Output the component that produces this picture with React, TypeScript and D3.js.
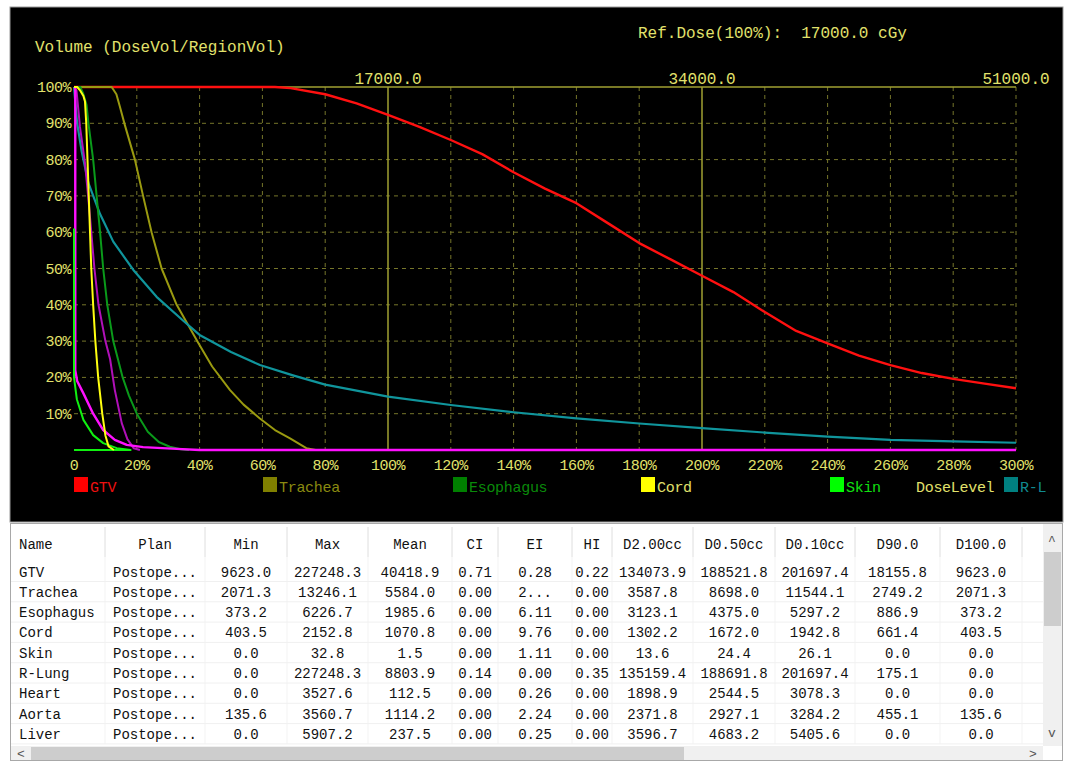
import React from 'react'
import * as d3 from 'd3'

// DVH curves, [dose % of ref dose, volume %]
const gtvDvh: [number, number][] = [[0, 100], [57, 100], [64, 100], [69, 99.7], [80, 98], [90, 95.5], [100, 92.3], [110, 89], [120, 85.4], [130, 81.5], [140, 76.5], [150, 72], [160, 68], [170, 62.5], [180, 57], [190, 52.5], [200, 48], [210, 43.5], [220, 38], [230, 32.8], [240, 29.4], [250, 26], [260, 23.4], [270, 21.2], [280, 19.6], [290, 18.3], [300, 17]]
const tracheaDvh: [number, number][] = [[0, 100], [12, 100], [13.5, 98], [14.6, 94.6], [16.2, 89.5], [19.4, 80], [22, 70], [24.7, 60], [27.9, 50], [32.7, 40], [39.6, 29.5], [44, 23], [49.7, 16.5], [54, 12.5], [59.2, 8.7], [64, 5.5], [68.8, 3.2], [74, 0.5], [77, 0]]
const esophagusDvh: [number, number][] = [[0, 100], [2, 100], [3, 98], [4, 95], [4.6, 90], [6.1, 80], [7.2, 70], [8.3, 60], [9.3, 50], [10.6, 40], [12.5, 30], [15.5, 20], [17.5, 15], [20, 10], [23.5, 5], [27, 2.2], [30.5, 0.9], [34, 0.2], [36.6, 0]]
const cordDvh: [number, number][] = [[0, 100], [1, 100], [2, 99], [3, 97.5], [3.5, 96], [3.9, 90], [4.3, 80], [4.7, 70], [5.1, 60], [5.5, 50], [6.1, 40], [6.8, 30], [7.7, 20], [9, 10], [10, 4], [11, 1], [12.7, 0]]
const skinDvh: [number, number][] = [[0, 61], [0, 20], [0.9, 14], [3, 8.3], [6.1, 4.1], [9.3, 1.9], [13.6, 0.5], [18, 0], [0, 0]]
const rLungDvh: [number, number][] = [[0, 100], [0.5, 95], [1, 90], [2.5, 82], [4.6, 73.5], [8.3, 65], [12.5, 57.4], [18.9, 49.6], [26.3, 42.2], [34.8, 35.6], [40, 31.7], [50, 27], [59.2, 23.4], [70, 20.5], [80, 18], [100, 14.7], [120, 12.4], [140, 10.4], [160, 8.7], [180, 7.3], [200, 6], [220, 4.8], [240, 3.7], [260, 2.8], [280, 2.4], [300, 2]]
const heartDvh: [number, number][] = [[0.4, 100], [0.4, 22], [1, 19], [3, 15.6], [6.1, 10], [9.3, 5.5], [13, 2.8], [16.8, 1.4], [22, 0.8], [32.7, 0.3], [40, 0], [300, 0]]
const aortaDvh: [number, number][] = [[0, 100], [0.8, 99], [1.9, 89], [3.5, 79], [4.5, 70], [5.5, 60], [6.5, 50], [7.8, 40], [10, 30], [11.5, 25], [13, 16.5], [15.2, 7.4], [17, 3], [19, 0.5], [21, 0]]

const doseTicks = [0, 20, 40, 60, 80, 100, 120, 140, 160, 180, 200, 220, 240, 260, 280, 300]
const volTicks = [10, 20, 30, 40, 50, 60, 70, 80, 90, 100]
const refDose = 17000

// table
const names = ['GTV', 'Trachea', 'Esophagus', 'Cord', 'Skin', 'R-Lung', 'Heart', 'Aorta', 'Liver']
const plans = ['Postope...', 'Postope...', 'Postope...', 'Postope...', 'Postope...', 'Postope...', 'Postope...', 'Postope...', 'Postope...']
const minDose = [9623.0, 2071.3, 373.2, 403.5, 0.0, 0.0, 0.0, 135.6, 0.0]
const maxDose = [227248.3, 13246.1, 6226.7, 2152.8, 32.8, 227248.3, 3527.6, 3560.7, 5907.2]
const meanDose = [40418.9, 5584.0, 1985.6, 1070.8, 1.5, 8803.9, 112.5, 1114.2, 237.5]
const ciVals = [0.71, 0.0, 0.0, 0.0, 0.0, 0.14, 0.0, 0.0, 0.0]
const eiVals = ['0.28', '2...', '6.11', '9.76', '1.11', '0.00', '0.26', '2.24', '0.25']
const hiVals = [0.22, 0.0, 0.0, 0.0, 0.0, 0.35, 0.0, 0.0, 0.0]
const d2cc = [134073.9, 3587.8, 3123.1, 1302.2, 13.6, 135159.4, 1898.9, 2371.8, 3596.7]
const d05cc = [188521.8, 8698.0, 4375.0, 1672.0, 24.4, 188691.8, 2544.5, 2927.1, 4683.2]
const d01cc = [201697.4, 11544.1, 5297.2, 1942.8, 26.1, 201697.4, 3078.3, 3284.2, 5405.6]
const d90 = [18155.8, 2749.2, 886.9, 661.4, 0.0, 175.1, 0.0, 455.1, 0.0]
const d100 = [9623.0, 2071.3, 373.2, 403.5, 0.0, 0.0, 0.0, 135.6, 0.0]

const W = 1068, H = 761
const mono = '"Liberation Mono", "DejaVu Sans Mono", monospace'
const txtColor = '#e2e26c'

const App = () => {
    const x = d3.scaleLinear().domain([0, 300]).range([74, 1016])
    const y = d3.scaleLinear().domain([0, 100]).range([450, 87])
    const line = d3.line<[number, number]>().x(d => x(d[0])).y(d => y(d[1]))

    // draw order: later on top
    const curves = [
        { name: 'GTV', color: '#ff1010', data: gtvDvh, w: 2.4 },
        { name: 'Trachea', color: '#9a9a10', data: tracheaDvh, w: 2 },
        { name: 'R-Lung', color: '#10959c', data: rLungDvh, w: 2.2 },
        { name: 'Esophagus', color: '#0a9a1a', data: esophagusDvh, w: 2 },
        { name: 'Aorta', color: '#b010b8', data: aortaDvh, w: 2 },
        { name: 'Heart', color: '#ff10ff', data: heartDvh, w: 2.4 },
        { name: 'Skin', color: '#10f010', data: skinDvh, w: 2 },
        { name: 'Cord', color: '#ffff10', data: cordDvh, w: 2 },
    ]

    // the last entry runs past the panel edge and is clipped, as in the original window
    const legend = [
        { label: 'GTV', swatch: '#ff0000', text: '#ee1010', x: 74 },
        { label: 'Trachea', swatch: '#808000', text: '#8a8a10', x: 263 },
        { label: 'Esophagus', swatch: '#008000', text: '#0a8a0a', x: 453 },
        { label: 'Cord', swatch: '#ffff00', text: txtColor, x: 641 },
        { label: 'Skin', swatch: '#00ff00', text: '#10e010', x: 830 },
        { label: 'DoseLevel', swatch: null, text: txtColor, x: 902 },
        { label: 'R-L', swatch: '#008080', text: '#108a90', x: 1004 },
    ]

    // table columns
    const colEdges = [10, 105, 205, 287, 368, 452, 498, 572, 612, 693, 775, 855, 940, 1022]
    const headers = ['Name', 'Plan', 'Min', 'Max', 'Mean', 'CI', 'EI', 'HI', 'D2.00cc', 'D0.50cc', 'D0.10cc', 'D90.0', 'D100.0']
    const f1 = (v: number) => v.toFixed(1)
    const f2 = (v: number) => v.toFixed(2)
    const rows = names.map((n, i) => [n, plans[i], f1(minDose[i]), f1(maxDose[i]), f1(meanDose[i]), f2(ciVals[i]), eiVals[i], f2(hiVals[i]),
        f1(d2cc[i]), f1(d05cc[i]), f1(d01cc[i]), f1(d90[i]), f1(d100[i])])
    const rowY = (i: number) => 571.5 + i * 20.3

    return (
        <svg width={W} height={H} style={{ position: 'absolute', left: 0, top: 0, background: '#fff' }}>
            <defs>
                <clipPath id="panel"><rect x={10} y={7} width={1053} height={515} /></clipPath>
            </defs>
            <rect x={10} y={7} width={1053} height={515} fill="#000" stroke="#9a9a9a" strokeWidth={1} />
            <g clipPath="url(#panel)" fontFamily={mono}>
                <text x={35} y={52} fill={txtColor} fontSize={16}>Volume (DoseVol/RegionVol)</text>
                <text x={638} y={38} fill={txtColor} fontSize={16} xmlSpace="preserve">{`Ref.Dose(100%):  ${refDose.toFixed(1)} cGy`}</text>

                {/* grid */}
                {volTicks.filter(v => v < 100).map(v => (
                    <line key={'h' + v} x1={x(0)} x2={x(300)} y1={y(v)} y2={y(v)} stroke="#76762a" strokeDasharray="4,4" />
                ))}
                {doseTicks.filter(d => d > 0).map(d => (
                    <line key={'v' + d} x1={x(d)} x2={x(d)} y1={y(100)} y2={y(0)}
                        stroke={d % 100 === 0 && d < 300 ? '#a0a032' : '#76762a'}
                        strokeDasharray={d % 100 === 0 && d < 300 ? undefined : '4,4'} strokeWidth={d % 100 === 0 && d < 300 ? 1.5 : 1} />
                ))}
                <line x1={x(0)} x2={x(300)} y1={y(100)} y2={y(100)} stroke="#a0a032" strokeWidth={1.5} />

                {/* top dose labels */}
                {[100, 200, 300].map(d => (
                    <text key={'t' + d} x={x(d)} y={84} fill={txtColor} fontSize={16} textAnchor="middle">{(refDose * d / 100).toFixed(1)}</text>
                ))}

                {/* y labels */}
                {volTicks.map(v => (
                    <text key={'y' + v} x={71} y={y(v) + 5} fill={txtColor} fontSize={15} textAnchor="end" letterSpacing={-0.5}>{v}%</text>
                ))}
                {/* x labels */}
                {doseTicks.map(d => (
                    <text key={'x' + d} x={x(d)} y={470} fill={txtColor} fontSize={15} textAnchor="middle" letterSpacing={-0.5}>{d === 0 ? '0' : d + '%'}</text>
                ))}

                {/* curves */}
                {curves.map(c => (
                    <path key={c.name} d={line(c.data) || ''} fill="none" stroke={c.color} strokeWidth={c.w} strokeLinejoin="round" />
                ))}

                {/* legend */}
                {legend.map(l => (
                    <g key={l.label}>
                        {l.swatch && <rect x={l.x} y={477} width={14} height={15} fill={l.swatch} />}
                        <text x={l.swatch ? l.x + 16 : l.x + 14} y={492} fill={l.text} fontSize={15} letterSpacing={-0.3}>{l.label}</text>
                    </g>
                ))}
            </g>

            {/* table */}
            <rect x={10.5} y={523.5} width={1052} height={237} fill="#fff" stroke="#a8a8a8" />
            <g fontFamily={mono} fontSize={14} fill="#111">
                {colEdges.slice(1).map(cx => (
                    <g key={'c' + cx}>
                        <line x1={cx} x2={cx} y1={527} y2={557} stroke="#dedede" />
                        <line x1={cx} x2={cx} y1={557} y2={744} stroke="#f3f3f3" />
                    </g>
                ))}
                {headers.map((h, j) => (
                    <text key={'hd' + j} x={j === 0 ? 19 : (colEdges[j] + colEdges[j + 1]) / 2} y={549}
                        textAnchor={j === 0 ? 'start' : 'middle'}>{h}</text>
                ))}
                {rows.map((r, i) => (
                    <g key={'r' + i}>
                        <line x1={11} x2={1043} y1={rowY(i) + 10} y2={rowY(i) + 10} stroke="#f0f0f0" />
                        {r.map((c, j) => (
                            <text key={j} x={j === 0 ? 19 : (colEdges[j] + colEdges[j + 1]) / 2} y={rowY(i) + 5}
                                textAnchor={j === 0 ? 'start' : 'middle'}>{c}</text>
                        ))}
                    </g>
                ))}
                {/* horizontal scrollbar */}
                <rect x={11} y={746} width={1032} height={14} fill="#f0f0f0" />
                <rect x={31} y={747} width={653} height={13} fill="#cdcdcd" />
                <text x={17} y={758} fontSize={13} fill="#555">&lt;</text>
                <text x={1029} y={758} fontSize={13} fill="#555">&gt;</text>
                {/* vertical scrollbar */}
                <rect x={1043} y={524} width={19} height={222} fill="#f0f0f0" />
                <rect x={1044} y={552} width={17} height={74} fill="#cdcdcd" />
                <text x={1052} y={545} fontSize={13} fill="#555" textAnchor="middle">^</text>
                <text x={1052} y={737} fontSize={13} fill="#555" textAnchor="middle">v</text>
            </g>
        </svg>
    )
}

export default App
